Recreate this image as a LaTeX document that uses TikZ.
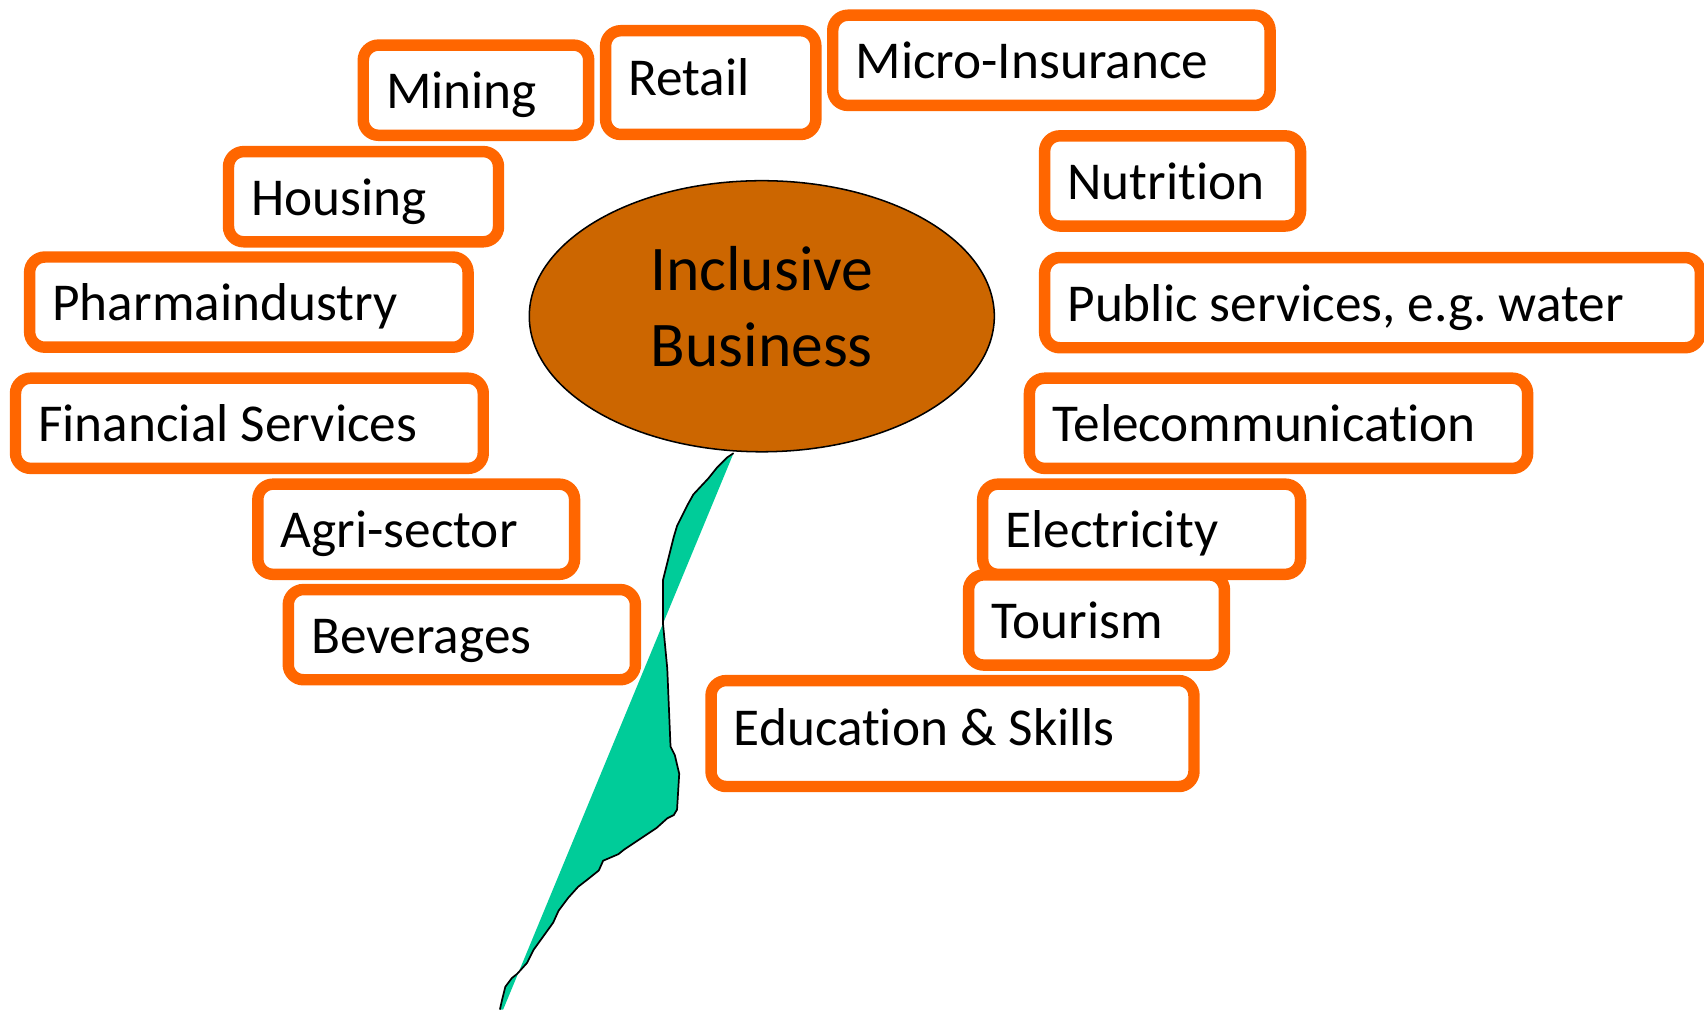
\documentclass[tikz,border=0pt]{standalone}
\usepackage{fontspec}
\setmainfont{Carlito}[Ligatures=NoCommon]
\usetikzlibrary{shapes.geometric}
\definecolor{boxorange}{HTML}{FF6600}
\definecolor{hubbrown}{HTML}{CC6600}
\definecolor{tailgreen}{HTML}{00CC99}
\frenchspacing

\begin{document}
\begin{tikzpicture}[x=0.02cm, y=-0.02cm,
    sector/.style={
        rectangle,
        draw=boxorange,
        line width=6pt,
        rounded corners=0.28cm,
        fill=white,
        anchor=west,
        outer sep=3pt,
        inner xsep=0.42cm,
        inner ysep=0.05cm,
        minimum height=1.66cm,
        align=flush left,
        text height=25pt,
        text depth=5.5pt,
        font=\fontsize{27.9}{33}\selectfont
      },
    hub/.style={
        ellipse,
        draw,
        fill=hubbrown,
        line width=0.8pt,
        minimum width=8.56cm,
        minimum height=4.99cm,
        inner sep=0pt
      }]
    \useasboundingbox (0,0) rectangle (1568,929);

    % centre
    \node[hub] (hub) at (701,291) {};
    \node[font=\fontsize{33.3}{40}\selectfont, align=center, inner sep=0pt] (hubtext) at (701,282) {Inclusive\\Business};

    % tail
    \coordinate (tip) at (675,417);
    \fill[tailgreen] (tip) -- (463,929) -- (460,929) -- (462,920) -- (465,908) -- (471,900) -- (476,896)
      -- (485,886) -- (491,874) -- (509,849) -- (514,838) -- (523,826) -- (532,816) -- (541,809)
      -- (551,801) -- (555,792) -- (569,786) -- (574,782) -- (589,772) -- (604,762) -- (614,753)
      -- (620,750) -- (623,745) -- (625,712) -- (621,695) -- (617,687) -- (614,615) -- (610,573)
      -- (610,534) -- (620,494) -- (623,484) -- (633,464) -- (638,455) -- (652,440) -- (660,430)
      -- (669,421) -- cycle;
    \draw[line width=0.9pt, line join=round] (460,929) -- (462,920) -- (465,908) -- (471,900) -- (476,896)
      -- (485,886) -- (491,874) -- (509,849) -- (514,838) -- (523,826) -- (532,816) -- (541,809)
      -- (551,801) -- (555,792) -- (569,786) -- (574,782) -- (589,772) -- (604,762) -- (614,753)
      -- (620,750) -- (623,745) -- (625,712) -- (621,695) -- (617,687) -- (614,615) -- (610,573)
      -- (610,534) -- (620,494) -- (623,484) -- (633,464) -- (638,455) -- (652,440) -- (660,430)
      -- (669,421) -- (tip);

    % sectors, left
    \node[sector, text width=3.31cm] (mining) at (329,83) {Mining};
    \node[sector, text width=4.13cm] (housing) at (205,181) {Housing};
    \node[sector, text width=7.23cm] (pharma) at (22,278) {Pharmaindustry};
    \node[sector, text width=7.77cm] (financial) at (9,389.5) {Financial Services};
    \node[sector, text width=4.99cm] (agri) at (232,487) {Agri-sector};
    \node[sector, text width=5.55cm] (beverages) at (260,584) {Beverages};

    % sectors, top and right
    \node[sector, text width=3.03cm, minimum height=1.91cm, text depth=12pt] (retail) at (552,76) {Retail};
    \node[sector, text width=7.21cm] (micro) at (761,55.5) {Micro-Insurance};
    \node[sector, text width=3.87cm] (nutrition) at (956,166.5) {Nutrition};
    \node[sector, text width=11.23cm] (public) at (956,278.5) {Public services, e.g. water};
    \node[sector, text width=8.33cm] (telecom) at (942,389.5) {Telecommunication};
    \node[sector, text width=5.01cm] (electricity) at (899,487) {Electricity};
    \node[sector, text width=3.87cm] (tourism) at (886,570.5) {Tourism};
    \node[sector, text width=8.05cm, minimum height=1.95cm, text depth=12.75pt] (education) at (649,675) {Education \& Skills};
  \end{tikzpicture}
\end{document}
